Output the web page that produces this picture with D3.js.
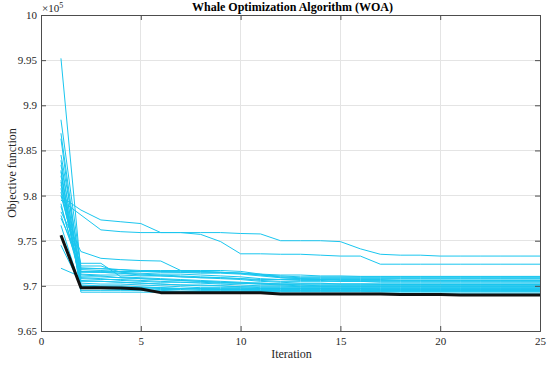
<!DOCTYPE html>
<html><head><meta charset="utf-8">
<script src="https://cdn.jsdelivr.net/npm/d3@7"></script>
<style>body{margin:0;background:#fff}svg{display:block}text{font-family:'Liberation Serif','Times New Roman',serif}</style>
</head><body><svg id="c" width="550" height="365"></svg>
<script>
const iterations = d3.range(1, 26);
const xTicks = [0, 5, 10, 15, 20, 25];
const yTicks = [9.65, 9.7, 9.75, 9.8, 9.85, 9.9, 9.95, 10];
const titleText = "Whale Optimization Algorithm (WOA)";
const xLabel = "Iteration";
const yLabel = "Objective function";

// cyan runs (values in units of 10^5)
const run01 = [9.952,9.716,9.716,9.716,9.716,9.716,9.716,9.716,9.715,9.714,9.712,9.711,9.710,9.710,9.710,9.710,9.710,9.710,9.710,9.710,9.710,9.710,9.710,9.710,9.710];
const run02 = [9.884,9.720,9.719,9.718,9.717,9.717,9.717,9.717,9.717,9.716,9.713,9.709,9.708,9.707,9.707,9.707,9.707,9.7065,9.7065,9.7065,9.7065,9.7065,9.7065,9.7065,9.7065];
const run03 = [9.869,9.709,9.708,9.706,9.705,9.704,9.704,9.704,9.703,9.703,9.702,9.702,9.702,9.702,9.702,9.702,9.7015,9.7015,9.7015,9.7015,9.7015,9.7015,9.7015,9.7015,9.7015];
const run04 = [9.863,9.698,9.698,9.698,9.698,9.697,9.697,9.697,9.697,9.697,9.697,9.697,9.697,9.697,9.697,9.697,9.6965,9.6965,9.6965,9.6965,9.6965,9.6965,9.6965,9.6965,9.6965];
const run05 = [9.845,9.722,9.722,9.715,9.714,9.713,9.713,9.712,9.711,9.710,9.708,9.707,9.706,9.706,9.705,9.705,9.704,9.704,9.704,9.704,9.704,9.704,9.704,9.704,9.704];
const run06 = [9.839,9.705,9.705,9.704,9.703,9.702,9.701,9.700,9.700,9.699,9.699,9.699,9.699,9.699,9.699,9.699,9.699,9.699,9.699,9.699,9.699,9.699,9.699,9.699,9.699];
const run07 = [9.834,9.712,9.711,9.709,9.708,9.707,9.706,9.705,9.704,9.703,9.702,9.701,9.700,9.700,9.700,9.700,9.700,9.700,9.700,9.700,9.700,9.700,9.700,9.700,9.700];
const run08 = [9.8265,9.695,9.695,9.695,9.695,9.694,9.694,9.694,9.694,9.694,9.694,9.694,9.694,9.694,9.694,9.694,9.6935,9.6935,9.6935,9.6935,9.6935,9.6935,9.6935,9.6935,9.6935];
const run09 = [9.822,9.715,9.715,9.714,9.712,9.711,9.710,9.709,9.709,9.708,9.707,9.707,9.707,9.707,9.706,9.706,9.706,9.706,9.706,9.706,9.706,9.706,9.706,9.706,9.706];
const run10 = [9.817,9.701,9.700,9.700,9.699,9.698,9.697,9.697,9.696,9.696,9.695,9.695,9.695,9.695,9.695,9.695,9.695,9.695,9.695,9.695,9.695,9.695,9.695,9.695,9.695];
const run11 = [9.812,9.718,9.717,9.716,9.716,9.716,9.715,9.715,9.715,9.714,9.712,9.710,9.709,9.709,9.709,9.709,9.709,9.709,9.709,9.709,9.709,9.709,9.709,9.709,9.709];
const run12 = [9.808,9.703,9.702,9.702,9.701,9.700,9.699,9.698,9.698,9.698,9.697,9.697,9.697,9.697,9.697,9.697,9.697,9.697,9.697,9.697,9.697,9.697,9.697,9.697,9.697];
const run13 = [9.804,9.708,9.707,9.707,9.706,9.705,9.704,9.703,9.702,9.701,9.700,9.700,9.699,9.699,9.699,9.699,9.699,9.699,9.699,9.699,9.699,9.699,9.699,9.699,9.699];
const run14 = [9.799,9.784,9.773,9.771,9.769,9.759,9.759,9.759,9.759,9.758,9.7575,9.750,9.750,9.750,9.749,9.741,9.735,9.734,9.734,9.733,9.733,9.733,9.733,9.733,9.733];
const run15 = [9.795,9.7785,9.762,9.760,9.759,9.759,9.759,9.757,9.749,9.7355,9.7355,9.735,9.735,9.734,9.733,9.733,9.724,9.724,9.724,9.724,9.724,9.724,9.724,9.724,9.724];
const run16 = [9.788,9.713,9.712,9.712,9.711,9.711,9.710,9.709,9.708,9.707,9.705,9.704,9.703,9.703,9.702,9.702,9.702,9.702,9.702,9.702,9.702,9.702,9.702,9.702,9.702];
const run17 = [9.782,9.738,9.7305,9.729,9.728,9.7275,9.717,9.716,9.715,9.714,9.713,9.712,9.712,9.711,9.711,9.7105,9.7105,9.7105,9.7105,9.7105,9.7105,9.7105,9.7105,9.7105,9.7105];
const run18 = [9.775,9.725,9.725,9.710,9.709,9.708,9.707,9.706,9.705,9.704,9.703,9.702,9.701,9.700,9.700,9.700,9.700,9.700,9.700,9.700,9.700,9.700,9.700,9.700,9.700];
const run19 = [9.767,9.697,9.697,9.696,9.695,9.695,9.694,9.694,9.694,9.694,9.694,9.694,9.694,9.694,9.694,9.694,9.694,9.694,9.694,9.694,9.694,9.694,9.694,9.694,9.694];
const run20 = [9.745,9.700,9.699,9.699,9.698,9.698,9.697,9.696,9.696,9.696,9.696,9.696,9.696,9.696,9.696,9.696,9.696,9.696,9.696,9.696,9.696,9.696,9.696,9.696,9.696];
const run21 = [9.7195,9.710,9.710,9.709,9.708,9.707,9.706,9.705,9.704,9.703,9.703,9.702,9.702,9.702,9.702,9.702,9.702,9.702,9.702,9.702,9.702,9.702,9.702,9.702,9.702];
const run22 = [9.828,9.693,9.693,9.693,9.693,9.693,9.692,9.692,9.692,9.692,9.692,9.692,9.692,9.692,9.692,9.692,9.692,9.692,9.692,9.692,9.692,9.692,9.692,9.692,9.692];
const run23 = [9.800,9.719,9.719,9.718,9.716,9.715,9.715,9.714,9.714,9.713,9.711,9.709,9.708,9.708,9.708,9.708,9.708,9.708,9.708,9.708,9.708,9.708,9.708,9.708,9.708];
const run24 = [9.791,9.706,9.705,9.704,9.703,9.702,9.701,9.701,9.700,9.699,9.698,9.698,9.698,9.698,9.698,9.698,9.698,9.698,9.698,9.698,9.698,9.698,9.698,9.698,9.698];
const run25 = [9.778,9.716,9.715,9.714,9.713,9.712,9.711,9.710,9.709,9.708,9.706,9.705,9.705,9.705,9.705,9.705,9.705,9.705,9.705,9.705,9.705,9.705,9.705,9.705,9.705];
const run26 = [9.815,9.699,9.698,9.698,9.697,9.696,9.696,9.695,9.695,9.695,9.695,9.695,9.695,9.695,9.695,9.695,9.695,9.695,9.695,9.695,9.695,9.695,9.695,9.695,9.695];
const bestRun = [9.756,9.698,9.698,9.6975,9.6965,9.6925,9.6925,9.6925,9.6925,9.6925,9.6925,9.691,9.691,9.691,9.691,9.691,9.691,9.6905,9.6905,9.6905,9.690,9.690,9.690,9.690,9.690];

const runs = [run01,run02,run03,run04,run05,run06,run07,run08,run09,run10,run11,run12,run13,
  run14,run15,run16,run17,run18,run19,run20,run21,run22,run23,run24,run25,run26];

const svg = d3.select("#c");
const L = 41, R = 540, T = 15, B = 331;
const x = d3.scaleLinear().domain([0, 25]).range([L, R]);
const y = d3.scaleLinear().domain([9.65, 10]).range([B, T]);
const font = "'Liberation Serif','Times New Roman',serif";
const axisCol = "#4d4d4d", textCol = "#262626";

// grid
svg.append("g").selectAll("line.gx").data(xTicks.slice(1, -1)).join("line")
  .attr("x1", d => x(d)).attr("x2", d => x(d)).attr("y1", T).attr("y2", B)
  .attr("stroke", "#e4e4e4").attr("stroke-width", 1).attr("shape-rendering", "crispEdges");
svg.append("g").selectAll("line.gy").data(yTicks.slice(1, -1)).join("line")
  .attr("x1", L).attr("x2", R).attr("y1", d => y(d)).attr("y2", d => y(d))
  .attr("stroke", "#e4e4e4").attr("stroke-width", 1).attr("shape-rendering", "crispEdges");

// lines
const line = d3.line().x((d, i) => x(iterations[i])).y(d => y(d));
svg.append("clipPath").attr("id", "clp").append("rect")
  .attr("x", L).attr("y", T).attr("width", R - L).attr("height", B - T);
const lg = svg.append("g").attr("clip-path", "url(#clp)");
lg.selectAll("path.run").data(runs).join("path")
  .attr("d", line).attr("fill", "none").attr("stroke", "#1ac6ef").attr("stroke-width", 1);
lg.append("path").datum(bestRun).attr("d", line).attr("fill", "none")
  .attr("stroke", "#111").attr("stroke-width", 3).attr("stroke-linejoin", "round");

// axes (MATLAB style box with inward ticks)
const axB = d3.axisBottom(x).tickValues(xTicks).tickSize(-5).tickPadding(6).tickFormat(d3.format("d"));
const axT = d3.axisTop(x).tickValues(xTicks).tickSize(-5).tickFormat("");
const axLft = d3.axisLeft(y).tickValues(yTicks).tickSize(-5).tickPadding(4).tickFormat(d => String(+d.toFixed(2)));
const axRt = d3.axisRight(y).tickValues(yTicks).tickSize(-5).tickFormat("");
function style(g) {
  g.attr("font-family", font).attr("font-size", 11);
  g.select(".domain").attr("stroke", axisCol);
  g.selectAll(".tick line").attr("stroke", axisCol);
  g.selectAll("text").attr("fill", textCol).style("font-family", font).style("font-size", "11px");
}
svg.append("g").attr("transform", `translate(0,${B})`).call(axB).call(style);
svg.append("g").attr("transform", `translate(0,${T})`).call(axT).call(style);
svg.append("g").attr("transform", `translate(${L},0)`).call(axLft).call(style);
svg.append("g").attr("transform", `translate(${R},0)`).call(axRt).call(style);

// labels
svg.append("text").attr("x", (L + R) / 2 + 2).attr("y", 11).attr("text-anchor", "middle")
  .style("font-family", font).attr("font-weight", "bold").style("font-size", "12px").attr("fill", "#000")
  .text(titleText);
svg.append("text").attr("x", (L + R) / 2 + 1).attr("y", 358).attr("text-anchor", "middle")
  .style("font-family", font).style("font-size", "12px").attr("fill", textCol).text(xLabel);
svg.append("text").attr("transform", `translate(16,${(T + B) / 2}) rotate(-90)`).attr("text-anchor", "middle")
  .style("font-family", font).style("font-size", "12px").attr("fill", textCol).text(yLabel);
const ex = svg.append("text").attr("x", L + 1).attr("y", 12)
  .style("font-family", font).style("font-size", "11px").attr("fill", textCol);
ex.append("tspan").text("\u00d710");
ex.append("tspan").attr("dy", -4).style("font-size", "8px").text("5");
</script></body></html>
